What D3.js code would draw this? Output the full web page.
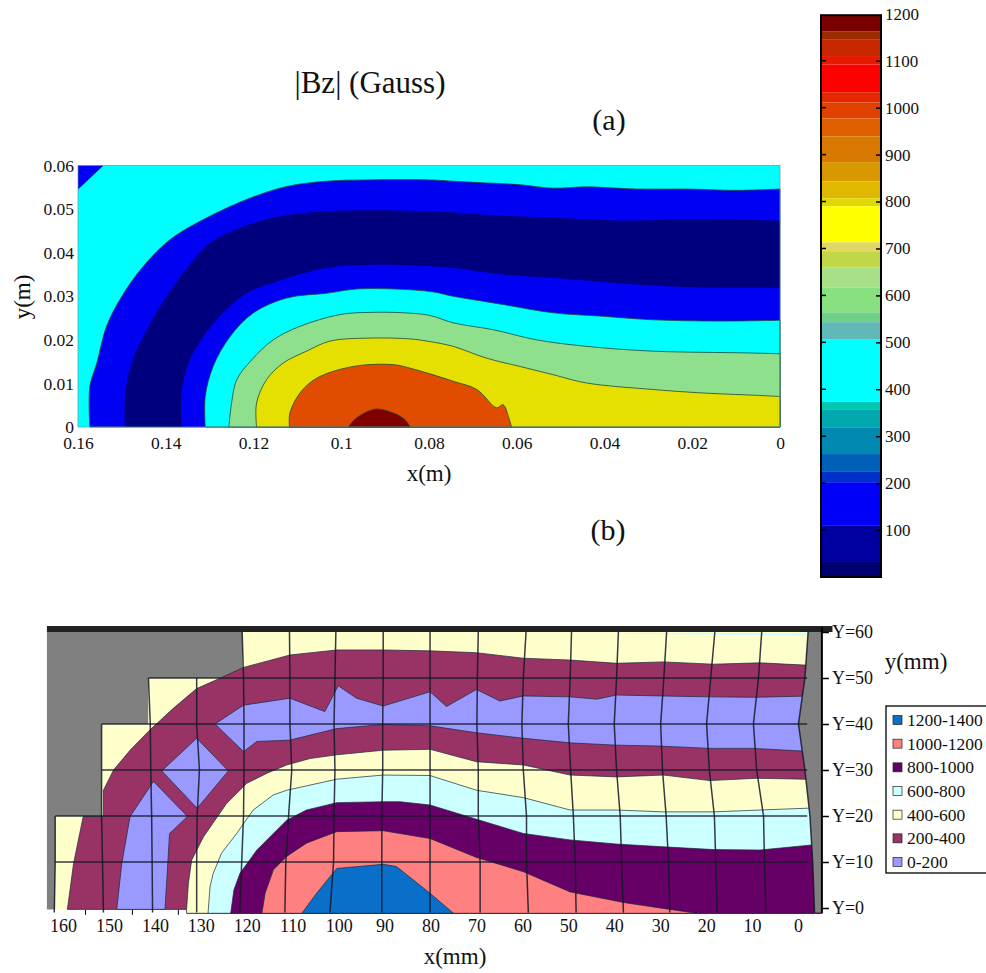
<!DOCTYPE html>
<html>
<head>
<meta charset="utf-8">
<script src="https://cdn.jsdelivr.net/npm/d3@7"></script>
<style>
  html, body { margin: 0; background: #fff; }
  svg { display: block; font-family: "Liberation Serif", serif; }
  .soft { filter: blur(0.6px); }
</style>
</head>
<body>
<script>
// Panel (a): contour boundaries, [x in m, y in m], outermost first
const cornerBlue = [[0.16, 0.0545], [0.1542, 0.06], [0.16, 0.06]];
const contourBlue = [[0.1573, 0], [0.1573, 0.0093], [0.1557, 0.0147], [0.1535, 0.0231], [0.15, 0.03], [0.1451, 0.0369], [0.139, 0.043], [0.1322, 0.0472], [0.1216, 0.0522], [0.1124, 0.0552], [0.1033, 0.0564], [0.0942, 0.0567], [0.0798, 0.0567], [0.0745, 0.0564], [0.0669, 0.056], [0.0593, 0.0556], [0.0517, 0.0548], [0.0441, 0.0551], [0.0327, 0.0546], [0.0213, 0.0546], [0.0099, 0.0543], [0, 0.0546]];
const contourNavy = [[0.1493, 0], [0.1493, 0.007], [0.1478, 0.0147], [0.1443, 0.0223], [0.1398, 0.03], [0.1348, 0.0369], [0.1299, 0.0422], [0.1231, 0.0457], [0.1155, 0.048], [0.1033, 0.0495], [0.0798, 0.0495], [0.0669, 0.0487], [0.0517, 0.048], [0.0365, 0.0474], [0.0213, 0.0476], [0, 0.0474]];
const contourBlue2 = [[0.1364, 0], [0.1364, 0.0078], [0.1348, 0.0147], [0.1314, 0.0208], [0.1269, 0.0262], [0.1216, 0.0307], [0.1147, 0.0334], [0.1033, 0.0365], [0.0919, 0.0372], [0.0798, 0.0369], [0.0745, 0.0365], [0.0631, 0.035], [0.0517, 0.0342], [0.0365, 0.033], [0.0213, 0.0321], [0, 0.0319]];
const contourCyan = [[0.131, 0], [0.131, 0.007], [0.1292, 0.0139], [0.1253, 0.0208], [0.12, 0.0262], [0.1124, 0.0296], [0.1033, 0.0307], [0.0957, 0.0317], [0.0798, 0.0311], [0.0745, 0.03], [0.0631, 0.0281], [0.0517, 0.0262], [0.0403, 0.0254], [0.0289, 0.0246], [0.0137, 0.0243], [0, 0.0245]];
const contourGreen = [[0.1256, 0], [0.125, 0.0055], [0.1238, 0.0109], [0.1204, 0.0154], [0.1155, 0.02], [0.1094, 0.0231], [0.1003, 0.0258], [0.0934, 0.0263], [0.0858, 0.0262], [0.0798, 0.0256], [0.0745, 0.0239], [0.0653, 0.0223], [0.0555, 0.02], [0.0441, 0.0185], [0.0289, 0.0174], [0.0076, 0.017], [0, 0.0168]];
const contourYellow = [[0.1193, 0], [0.1193, 0.0055], [0.117, 0.0109], [0.1132, 0.0147], [0.1079, 0.0174], [0.1026, 0.0197], [0.0934, 0.0204], [0.0843, 0.0202], [0.0798, 0.0196], [0.0745, 0.0185], [0.0669, 0.0158], [0.0593, 0.0139], [0.0517, 0.012], [0.0441, 0.0101], [0.0289, 0.0086], [0.0175, 0.0078], [0.0061, 0.0073], [0, 0.007]];
const contourOrange = [[0.1118, 0], [0.1117, 0.0032], [0.1094, 0.0078], [0.1056, 0.0112], [0.0972, 0.0139], [0.0881, 0.0143], [0.0843, 0.0135], [0.0798, 0.0122], [0.0745, 0.0105], [0.0691, 0.0086], [0.0646, 0.0044], [0.0631, 0.0051], [0.0619, 0.0024], [0.0612, 0]];
const contourRed = [[0.0984, 0], [0.0965, 0.0021], [0.0923, 0.0041], [0.0881, 0.0032], [0.0855, 0.0017], [0.0843, 0]];

const contoursA = [contourBlue, contourNavy, contourBlue2, contourCyan, contourGreen, contourYellow, contourOrange, contourRed];
const contourColorsA = ['#0000f2', '#00007f', '#0000f2', '#00ffff', '#8ee08c', '#e6e000', '#e04c00', '#800000'];
const xTicksA = [0.16, 0.14, 0.12, 0.1, 0.08, 0.06, 0.04, 0.02, 0];
const yTicksA = [0, 0.01, 0.02, 0.03, 0.04, 0.05, 0.06];

// Colour bar: upper edge of each band (Gauss), top band first
const barTops = [1197, 1163, 1146, 1110, 1092, 1033, 1011, 977, 939, 884, 843, 807, 790, 713, 694, 660, 617, 564, 543, 507, 373, 356, 319, 262, 224, 202, 109, 34];
const barColors = ['#7a0000', '#9a2a00', '#c82800', '#e61a00', '#ff0000', '#e62800', '#e04000', '#e06000', '#d87800', '#d89800', '#e0b800', '#e0d800', '#ffff00', '#e0d860', '#c0d848', '#a8e088', '#88e080', '#70d088', '#60b8b8', '#00ffff', '#00c8b0', '#00a8b0', '#0088b0', '#0060b8', '#0030c8', '#0000f8', '#0000a0', '#000070'];
const barTicks = [100, 200, 300, 400, 500, 600, 700, 800, 900, 1000, 1100, 1200];

// Panel (b): band boundaries, [x in mm, y in mm]
const stairOutline = [[163.5, 60], [120.9, 60], [120.9, 50], [141.4, 50], [141.4, 40], [151.6, 40], [151.6, 20], [161.7, 20], [161.7, -0.3], [163.5, -0.3]];
const surfaceOutline = [[161.7, 20], [151.6, 20], [151.6, 40], [141.4, 40], [141.4, 50], [120.9, 50], [120.9, 60], [-5, 60], [-5, -1.15], [133, -1.15], [133, -0.3], [161.7, -0.3]];
const edge200 = [[159.05, -0.3], [157.7, 9.7], [155.6, 19.9], [151.2, 19.9], [151.2, 25.6], [149, 30], [145.4, 34.3], [141.1, 38.7], [136, 43.4], [130.9, 47.7], [125.5, 50.1], [120.7, 52.3], [110.6, 55], [100.4, 56.1], [90.3, 56.1], [80.1, 55.9], [70, 55.5], [59.8, 54.3], [49.6, 53.9], [39.5, 53.2], [29.3, 53.5], [18.4, 53], [8.3, 53.3], [-1.5, 52.8], [-5, 52.8], [-5, -1.15], [133, -1.15], [133, -0.3]];
const edge400 = [[133.1, -1.15], [133.1, -0.3], [132.7, 5.4], [132, 10.4], [129.4, 15.5], [124.4, 22.7], [120, 27.1], [115.6, 29.3], [111.3, 31.1], [106.2, 32.5], [100.4, 33.3], [90.3, 34.3], [80.1, 34.5], [70, 31.8], [59.8, 31.1], [49.6, 28.9], [39.5, 28.5], [29.3, 28.9], [19.2, 27.7], [9, 28.2], [-1.5, 28], [-5, 28], [-5, -1.15]];
const edge600 = [[128.4, -1.15], [128.4, -0.8], [128, 4.6], [127.3, 7.5], [125.5, 11.9], [122.2, 16.2], [118.6, 21.3], [114.2, 24.6], [111.3, 25.6], [100.4, 28], [90.3, 28.9], [80.1, 28.8], [70, 25.6], [59.8, 24], [49.6, 21.3], [39.5, 21.3], [29.3, 20.9], [18.4, 20.9], [8.3, 21.3], [-2.2, 21.7], [-5, 21.7], [-5, -1.15]];
const edge800 = [[123.5, -1.15], [122.8, 3.9], [121.5, 7.5], [117.8, 12.6], [111.3, 19.1], [107, 21.3], [100.4, 22.9], [90.3, 23.1], [86.6, 23.1], [80.1, 22.4], [70, 19.3], [59.8, 16.2], [49.6, 14.8], [39.5, 13.9], [29.3, 13.3], [18.4, 12.7], [8.3, 12.6], [-3, 13.7], [-5, 13.7], [-5, -1.15]];
const edge1000 = [[116.7, -1.15], [116, 3.2], [114.2, 8.3], [111.3, 11.2], [107, 14.1], [100.4, 16.6], [90.3, 16.8], [80.1, 15.1], [70, 11], [59.8, 7.9], [49.6, 3.5], [38, 1.2], [29.3, -0.1], [22.1, -1.15]];
const edge1200 = [[108, -1.15], [104.8, 3.2], [100.4, 8.6], [90.3, 9.5], [87.4, 9], [80.1, 3.2], [75, -1.15]];
const lowLeft = [[148.3, -0.3], [147.2, 9.7], [145.4, 19.9], [140.3, 27.5], [132.9, 19.9], [136.8, 16.2], [137.8, -0.3]];
const lowDiamond = [[130.9, 36.9], [124, 29.8], [130.8, 21.7], [138.5, 29.8]];
const lowMain = [[126.9, 40], [120.7, 44.1], [110.6, 45.6], [103, 42.7], [100.1, 48.3], [96.1, 45.6], [90.3, 43.9], [80.1, 47], [76.5, 43.8], [70, 47.5], [64.9, 45], [59.8, 46.1], [49.6, 45.9], [43.8, 45.4], [39.5, 46.3], [30, 46.1], [19.2, 45.9], [9.7, 45.8], [-3, 46.1], [-3, 34], [9.7, 34.7], [19.2, 34.7], [30, 35.2], [39.5, 35.4], [49.6, 35.9], [59.8, 36.9], [70, 38.1], [80.1, 39.6], [90.3, 39.9], [100.4, 39], [110.6, 36.5], [117.8, 36.2], [120.7, 34]];
const topSliver = [[38, 59.8], [-2, 59.8], [-2, 59.2], [20, 59.4], [38, 59.6]];

const bandsB = [edge200, edge400, edge600, edge800, edge1000, edge1200, lowLeft, lowDiamond, lowMain, topSliver];
const bandColorsB = ['#993366', '#ffffcc', '#ccffff', '#660066', '#ff8080', '#0a6fc8', '#9999ff', '#9999ff', '#9999ff', '#ccffff'];

// Wavy mesh of panel (b): x (mm) of each column where it crosses the rows in meshRows
const meshRows = [60, 50, 40, 30, 20, 10, -1];
const meshColumns = [
  [null, null, null, null, 161.7, 161.7, 161.9],
  [null, null, 151.6, 151.6, 151.6, 151.4, 151.2],
  [null, 141.4, 141, 140.9, 140.7, 140.6, 140.5],
  [null, 130.9, 130.9, 130.3, 130.8, 130.9, 130.9],
  [121, 120.7, 120.6, 120.6, 120.7, 121.1, 121.5],
  [110.7, 110.6, 110.6, 110.2, 110.9, 111.5, 111.7],
  [100.6, 100.8, 101, 100.8, 101, 101.1, 101.9],
  [90.3, 90.3, 90.4, 90.4, 90.6, 90.6, 90.6],
  [80.1, 80.1, 80.1, 80.1, 80.1, 80.1, 80.1],
  [69.6, 69.8, 69.9, 69.6, 69.6, 69.2, 69.2],
  [59.2, 59.8, 60.1, 59.8, 59.1, 59.1, 58.7],
  [49.3, 49.6, 50, 49.5, 48.9, 48.5, 48.3],
  [39.1, 39.5, 40, 39.5, 38.7, 38.4, 38],
  [28.6, 29.2, 29.9, 29.5, 28.7, 28.2, 27.9],
  [18.1, 19, 19.9, 19.3, 18.2, 17.9, 17.6],
  [7.9, 8.6, 9.7, 9, 7.5, 7.3, 7],
  [-2.2, -1.5, -0.1, -1.5, -2.6, -3.2, -3.6]
];
const meshRowStarts = [[50, 141.4], [40, 151.6], [30, 151.6], [20, 161.7], [10, 161.7]];

const xLabelsB = [160, 150, 140, 130, 120, 110, 100, 90, 80, 70, 60, 50, 40, 30, 20, 10, 0];
const xTickMarksB = [155.2, 145, 135];
const yTicksB = [0, 10, 20, 30, 40, 50, 60];

const legendLabels = ['1200-1400', '1000-1200', '800-1000', '600-800', '400-600', '200-400', '0-200'];
const legendColors = ['#0a6fc8', '#ff8080', '#660066', '#ccffff', '#ffffcc', '#993366', '#9999ff'];

const width = 986;
const height = 973;

const svg = d3.select('body').append('svg')
  .attr('width', width)
  .attr('height', height);

// ---- Panel (a) ----
const xA = d3.scaleLinear().domain([0.16, 0]).range([78, 780]);
const yA = d3.scaleLinear().domain([0, 0.06]).range([427, 165.5]);
const lineA = d3.line().x(d => xA(d[0])).y(d => yA(d[1]));
const curveA = d3.line().x(d => xA(d[0])).y(d => yA(d[1])).curve(d3.curveCatmullRom.alpha(0.5));

// Smooth contour, closed down to the bottom right corner when it ends on the right edge
const closeA = pts => curveA(pts) + (pts[pts.length - 1][1] > 0 ? `L${xA(0)},${yA(0)}` : '') + 'Z';

const panelA = svg.append('g').attr('class', 'soft');

panelA.append('rect')
  .attr('x', xA(0.16))
  .attr('y', yA(0.06))
  .attr('width', xA(0) - xA(0.16))
  .attr('height', yA(0) - yA(0.06))
  .attr('fill', '#00ffff');

panelA.append('path')
  .attr('d', lineA(cornerBlue) + 'Z')
  .attr('fill', '#0000f2');

panelA.append('g').selectAll('path')
  .data(contoursA)
  .join('path')
  .attr('d', closeA)
  .attr('fill', (d, i) => contourColorsA[i])
  .attr('stroke', '#1c4a3a')
  .attr('stroke-opacity', (d, i) => (i === 1 || i === 2 ? 0 : 0.8))
  .attr('stroke-width', 1);

panelA.append('rect')
  .attr('x', xA(0.16))
  .attr('y', yA(0.06))
  .attr('width', xA(0) - xA(0.16))
  .attr('height', yA(0) - yA(0.06))
  .attr('fill', 'none')
  .attr('stroke', '#5a9a9a')
  .attr('stroke-width', 0.7);

const axisA = svg.append('g')
  .attr('transform', `translate(0,${yA(0)})`)
  .call(d3.axisBottom(xA).tickValues(xTicksA).tickFormat(d3.format('')).tickSize(0).tickPadding(10));
const axisAy = svg.append('g')
  .attr('transform', `translate(${xA(0.16)},0)`)
  .call(d3.axisLeft(yA).tickValues(yTicksA).tickFormat(d3.format('')).tickSize(0).tickPadding(4));
[axisA, axisAy].forEach(g => {
  g.select('.domain').remove();
  g.selectAll('text').attr('font-family', 'Liberation Serif').attr('font-size', 17.5).attr('fill', '#111');
});

const addText = (label, x, y, size) => svg.append('text')
  .attr('x', x)
  .attr('y', y)
  .attr('text-anchor', 'middle')
  .attr('font-size', size)
  .attr('fill', '#111')
  .text(label);

addText('|Bz| (Gauss)', 370, 93, 31);
addText('(a)', 609, 130, 30);
addText('(b)', 608, 540, 30);
addText('x(m)', 429, 481, 23);
addText('y(m)', 0, 0, 23).attr('transform', 'translate(30,297) rotate(-90)');
addText('x(mm)', 455, 964, 23);
addText('y(mm)', 916, 669, 23);

// ---- Colour bar ----
const yBar = d3.scaleLinear().domain([0, 1200]).range([577, 13.8]);
const xBar = [821, 881];

svg.append('g').attr('class', 'soft').selectAll('rect')
  .data(barTops)
  .join('rect')
  .attr('x', xBar[0])
  .attr('width', xBar[1] - xBar[0])
  .attr('y', d => yBar(d))
  .attr('height', (d, i) => yBar(i + 1 < barTops.length ? barTops[i + 1] : 0) - yBar(d))
  .attr('fill', (d, i) => barColors[i]);

svg.append('rect')
  .attr('x', xBar[0])
  .attr('y', yBar(barTops[0]))
  .attr('width', xBar[1] - xBar[0])
  .attr('height', yBar(0) - yBar(barTops[0]))
  .attr('fill', 'none')
  .attr('stroke', '#000')
  .attr('stroke-width', 2);

const barAxis = svg.append('g')
  .attr('transform', `translate(${xBar[1]},0)`)
  .call(d3.axisRight(yBar).tickValues(barTicks).tickFormat(d3.format('')).tickSize(-5).tickPadding(4));
barAxis.select('.domain').remove();
barAxis.selectAll('line').attr('stroke-width', 1.5);
barAxis.selectAll('line').filter(d => d === 1200).remove();
barAxis.selectAll('text').attr('font-family', 'Liberation Serif').attr('font-size', 17).attr('fill', '#111');

svg.append('g').selectAll('line')
  .data(barTicks.slice(0, -1))
  .join('line')
  .attr('x1', xBar[0])
  .attr('x2', xBar[0] + 5)
  .attr('y1', d => yBar(d))
  .attr('y2', d => yBar(d))
  .attr('stroke', '#000')
  .attr('stroke-width', 1.5);

// ---- Panel (b) ----
const xB = d3.scaleLinear().domain([160, 0]).range([63, 798]);
const yB = d3.scaleLinear().domain([0, 60]).range([908, 632]);
const lineB = d3.line().x(d => xB(d[0])).y(d => yB(d[1]));

const panelB = svg.append('g').attr('class', 'soft');

panelB.append('path')
  .attr('d', lineB(stairOutline) + 'Z')
  .attr('fill', '#808080');

panelB.append('path')
  .attr('d', lineB(surfaceOutline) + 'Z')
  .attr('fill', '#ffffcc');

panelB.append('g').selectAll('path')
  .data(bandsB)
  .join('path')
  .attr('d', d => lineB(d) + 'Z')
  .attr('fill', (d, i) => bandColorsB[i])
  .attr('stroke', '#1a2a3a')
  .attr('stroke-opacity', (d, i) => (i === 9 ? 0 : 0.7))
  .attr('stroke-width', 1);

// Grey wedge on the right of the surface
const wedge = meshColumns[16].map((x, i) => [x, meshRows[i]]).concat([[-5.2, -1], [-5.2, 60]]);
panelB.append('path')
  .attr('d', lineB(wedge) + 'Z')
  .attr('fill', '#808080');

// Mesh
const mesh = panelB.append('g')
  .attr('fill', 'none')
  .attr('stroke', '#141828')
  .attr('stroke-opacity', 0.85)
  .attr('stroke-width', 1.5);

mesh.selectAll('path.column')
  .data(meshColumns)
  .join('path')
  .attr('class', 'column')
  .attr('d', col => lineB(col.map((x, i) => [x, meshRows[i]]).filter(d => d[0] !== null)));

mesh.selectAll('line.row')
  .data(meshRowStarts)
  .join('line')
  .attr('class', 'row')
  .attr('x1', d => xB(d[1]))
  .attr('x2', xB(-2))
  .attr('y1', d => yB(d[0]))
  .attr('y2', d => yB(d[0]));

// Black bar along the top
panelB.append('rect')
  .attr('x', xB(163.5))
  .attr('y', yB(61.3))
  .attr('width', xB(-7.5) - xB(163.5))
  .attr('height', yB(60) - yB(61.3))
  .attr('fill', '#222');

const axisBx = svg.append('g')
  .attr('transform', `translate(0,${yB(-1.15)})`)
  .call(d3.axisBottom(xB).tickValues(xLabelsB).tickFormat(d3.format('')).tickSize(0).tickPadding(6));
axisBx.select('.domain').remove();
axisBx.selectAll('text').attr('font-family', 'Liberation Serif').attr('font-size', 18).attr('fill', '#111');

const marksBx = svg.append('g')
  .attr('transform', `translate(0,${yB(-0.4)})`)
  .call(d3.axisBottom(xB).tickValues(xTickMarksB).tickFormat('').tickSize(5));
marksBx.select('.domain').remove();

const axisBy = svg.append('g')
  .attr('transform', `translate(${xB(-5.2)},0)`)
  .call(d3.axisRight(yB).tickValues(yTicksB).tickFormat(d => `Y=${d}`).tickSize(7).tickPadding(3));
axisBy.select('.domain').attr('stroke-width', 2).attr('d', `M0,${yB(61)}V${yB(-1.2)}`);
axisBy.selectAll('line').attr('stroke-width', 1.5);
axisBy.selectAll('text').attr('font-family', 'Liberation Serif').attr('font-size', 18).attr('fill', '#111');

// Legend
const yLegend = d3.scalePoint().domain(legendLabels).range([720, 862]);

svg.append('rect')
  .attr('x', 886)
  .attr('y', 706)
  .attr('width', 110)
  .attr('height', 167)
  .attr('fill', '#fff')
  .attr('stroke', '#000')
  .attr('stroke-width', 1.3);

const legendItems = svg.append('g').selectAll('g')
  .data(legendLabels)
  .join('g')
  .attr('transform', d => `translate(893,${yLegend(d)})`);

legendItems.append('rect')
  .attr('x', 0)
  .attr('y', -4.5)
  .attr('width', 9)
  .attr('height', 9)
  .attr('fill', (d, i) => legendColors[i])
  .attr('stroke', '#222')
  .attr('stroke-width', 0.7);

legendItems.append('text')
  .attr('x', 14)
  .attr('y', 6)
  .attr('font-size', 17.5)
  .attr('fill', '#111')
  .text(d => d);
</script>
</body>
</html>
